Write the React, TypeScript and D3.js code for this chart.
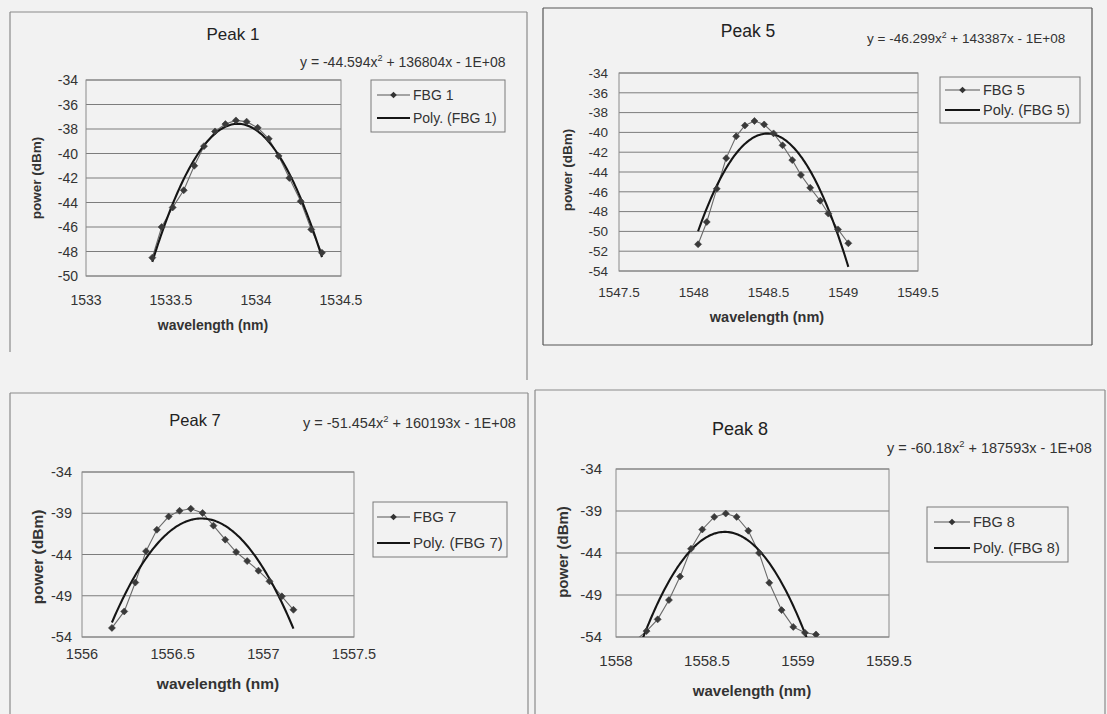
import React from "react";
import * as d3 from "d3";

// ---------- DATA ----------
const peak1Wavelength = [1533.39, 1533.445, 1533.51, 1533.575, 1533.637, 1533.694, 1533.759, 1533.82, 1533.882, 1533.945, 1534.01, 1534.075, 1534.133, 1534.196, 1534.263, 1534.325, 1534.388];
const peak1Power = [-48.5, -46.0, -44.4, -43.0, -41.0, -39.4, -38.2, -37.6, -37.3, -37.4, -37.9, -38.8, -40.2, -42.0, -43.9, -46.2, -48.1];

const peak5Wavelength = [1548.029, 1548.087, 1548.154, 1548.217, 1548.284, 1548.342, 1548.406, 1548.471, 1548.534, 1548.594, 1548.659, 1548.717, 1548.779, 1548.846, 1548.9, 1548.965, 1549.034];
const peak5Power = [-51.3, -49.05, -45.7, -42.6, -40.4, -39.3, -38.85, -39.2, -40.1, -41.3, -42.8, -44.3, -45.6, -46.9, -48.2, -49.8, -51.2];

const peak7Wavelength = [1556.165, 1556.233, 1556.294, 1556.353, 1556.413, 1556.478, 1556.538, 1556.6, 1556.665, 1556.725, 1556.79, 1556.85, 1556.911, 1556.973, 1557.034, 1557.102, 1557.166];
const peak7Power = [-52.9, -50.9, -47.4, -43.6, -41.0, -39.4, -38.7, -38.45, -38.97, -40.5, -42.2, -43.7, -44.8, -45.96, -47.25, -49.07, -50.7];

const peak8Wavelength = [1558.107, 1558.168, 1558.229, 1558.291, 1558.352, 1558.412, 1558.474, 1558.54, 1558.603, 1558.663, 1558.727, 1558.786, 1558.842, 1558.91, 1558.974, 1559.038, 1559.099];
const peak8Power = [-54.4, -53.3, -51.9, -49.6, -46.8, -43.5, -41.2, -39.7, -39.3, -39.7, -41.35, -44.0, -47.55, -50.8, -52.8, -53.5, -53.7];

const peak1XTicks = [1533, 1533.5, 1534, 1534.5];
const peak1YTicks = [-34, -36, -38, -40, -42, -44, -46, -48, -50];
const peak5XTicks = [1547.5, 1548, 1548.5, 1549, 1549.5];
const peak5YTicks = [-34, -36, -38, -40, -42, -44, -46, -48, -50, -52, -54];
const peak7XTicks = [1556, 1556.5, 1557, 1557.5];
const peak8XTicks = [1558, 1558.5, 1559, 1559.5];
const fiveStepYTicks = [-34, -39, -44, -49, -54];

const titles = ["Peak 1", "Peak 5", "Peak 7", "Peak 8"];
const seriesNames = ["FBG 1", "FBG 5", "FBG 7", "FBG 8"];
const trendNames = ["Poly. (FBG 1)", "Poly. (FBG 5)", "Poly. (FBG 7)", "Poly. (FBG 8)"];
const equationA = ["-44.594", "-46.299", "-51.454", "-60.18"];
const equationB = ["136804", "143387", "160193", "187593"];

// ---------- helpers ----------
function quadFit(xs: number[], ys: number[]) {
  const mx = d3.mean(xs) as number;
  const u = xs.map((x) => x - mx);
  let s0 = xs.length, s1 = 0, s2 = 0, s3 = 0, s4 = 0, t0 = 0, t1 = 0, t2 = 0;
  u.forEach((v, i) => {
    s1 += v; s2 += v * v; s3 += v * v * v; s4 += v * v * v * v;
    t0 += ys[i]; t1 += v * ys[i]; t2 += v * v * ys[i];
  });
  const M = [[s4, s3, s2], [s3, s2, s1], [s2, s1, s0]];
  const T = [t2, t1, t0];
  const det = (m: number[][]) =>
    m[0][0] * (m[1][1] * m[2][2] - m[1][2] * m[2][1]) -
    m[0][1] * (m[1][0] * m[2][2] - m[1][2] * m[2][0]) +
    m[0][2] * (m[1][0] * m[2][1] - m[1][1] * m[2][0]);
  const D = det(M);
  const col = (k: number) => M.map((row, i) => row.map((v, j) => (j === k ? T[i] : v)));
  const a = det(col(0)) / D, b = det(col(1)) / D, c = det(col(2)) / D;
  return (x: number) => a * (x - mx) * (x - mx) + b * (x - mx) + c;
}

const FONT = "'Liberation Sans', Arial, Helvetica, sans-serif";

type Cfg = {
  id: number;
  xs: number[]; ys: number[];
  xTicks: number[]; yTicks: number[];
  border: { x: number; y: number; w: number; h: number; hr: number; bottom: boolean; color: string };
  plot: { l: number; r: number; t: number; b: number };
  title: { x: number; y: number; size: number };
  eq: { x: number; y: number; size: number };
  yLabelRight: number; tickSize: number;
  yTitle: { x: number; y: number; size: number };
  xLabelY: number;
  xTitle: { x: number; y: number; size: number };
  legend: { x: number; y: number; w: number; h: number; r1: number; r2: number; l0: number; l1: number; size: number };
};

const diamond = (r: number) => `M0,${-r}L${r},0L0,${r}L${-r},0Z`;

function Panel({ cfg }: { cfg: Cfg }) {
  const { plot } = cfg;
  const x = d3.scaleLinear().domain([cfg.xTicks[0], cfg.xTicks[cfg.xTicks.length - 1]]).range([plot.l, plot.r]);
  const yMin = d3.min(cfg.yTicks) as number, yMax = d3.max(cfg.yTicks) as number;
  const y = d3.scaleLinear().domain([yMin, yMax]).range([plot.b, plot.t]);
  const fit = quadFit(cfg.xs, cfg.ys);
  const [x0, x1] = d3.extent(cfg.xs) as [number, number];
  const trendPts = d3.range(0, 121).map((i) => x0 + ((x1 - x0) * i) / 120);
  const line = d3.line<[number, number]>().x((d) => x(d[0])).y((d) => y(d[1]));
  const dataPts: [number, number][] = cfg.xs.map((v, i) => [v, cfg.ys[i]]);
  const trend: [number, number][] = trendPts.map((v) => [v, fit(v)]);
  const clipId = `clip${cfg.id}`;
  const B = cfg.border;
  const L = cfg.legend;
  const idx = cfg.id;
  return (
    <g fontFamily={FONT} fill="#222">
      <line x1={B.x} y1={B.y} x2={B.x + B.w} y2={B.y} stroke={B.color} strokeWidth={1.2} />
      <line x1={B.x} y1={B.y} x2={B.x} y2={B.y + B.h} stroke={B.color} strokeWidth={1.2} />
      <line x1={B.x + B.w} y1={B.y} x2={B.x + B.w} y2={B.y + B.hr} stroke={B.color} strokeWidth={1.2} />
      {B.bottom && <line x1={B.x} y1={B.y + B.h} x2={B.x + B.w} y2={B.y + B.h} stroke={B.color} strokeWidth={1.2} />}

      <defs>
        <clipPath id={clipId}>
          <rect x={plot.l} y={plot.t} width={plot.r - plot.l} height={plot.b - plot.t} />
        </clipPath>
      </defs>

      {cfg.yTicks.map((t) => (
        <line key={t} x1={plot.l} x2={plot.r} y1={y(t)} y2={y(t)} stroke="#7d7d7d" strokeWidth={1} />
      ))}
      <rect x={plot.l} y={plot.t} width={plot.r - plot.l} height={plot.b - plot.t} fill="none" stroke="#8a8a8a" strokeWidth={1} />

      {cfg.yTicks.map((t) => (
        <text key={t} x={cfg.yLabelRight} y={y(t)} dy="0.36em" textAnchor="end" fontSize={cfg.tickSize} fill="#333">
          {t}
        </text>
      ))}
      {cfg.xTicks.map((t) => (
        <text key={t} x={x(t)} y={cfg.xLabelY} textAnchor="middle" fontSize={cfg.tickSize} fill="#333">
          {t}
        </text>
      ))}

      <g clipPath={`url(#${clipId})`}>
        <path d={line(dataPts) || ""} fill="none" stroke="#6a6a6a" strokeWidth={1.1} />
        <path d={line(trend) || ""} fill="none" stroke="#151515" strokeWidth={2.1} />
        {dataPts
          .filter((d) => d[1] >= yMin - 0.3)
          .map((d, i) => (
            <path key={i} d={diamond(3.5)} transform={`translate(${x(d[0])},${y(d[1])})`} fill="#3a3a3a" stroke="#3a3a3a" strokeWidth={0.6} />
          ))}
      </g>

      <text x={cfg.title.x} y={cfg.title.y} textAnchor="middle" fontSize={cfg.title.size} fill="#222">
        {titles[idx]}
      </text>
      <text x={cfg.eq.x} y={cfg.eq.y} fontSize={cfg.eq.size} fill="#333">
        {`y = ${equationA[idx]}x`}
        <tspan dy={-cfg.eq.size * 0.4} fontSize={cfg.eq.size * 0.65}>2</tspan>
        <tspan dy={cfg.eq.size * 0.4}>{` + ${equationB[idx]}x - 1E+08`}</tspan>
      </text>
      <text
        transform={`translate(${cfg.yTitle.x},${cfg.yTitle.y}) rotate(-90)`}
        textAnchor="middle"
        dy="0.35em"
        fontSize={cfg.yTitle.size}
        fontWeight="bold"
        fill="#333"
      >
        power (dBm)
      </text>
      <text x={cfg.xTitle.x} y={cfg.xTitle.y} textAnchor="middle" fontSize={cfg.xTitle.size} fontWeight="bold" fill="#333">
        wavelength (nm)
      </text>

      <rect x={L.x} y={L.y} width={L.w} height={L.h} fill="none" stroke="#7a7a7a" strokeWidth={1} />
      <line x1={L.l0} x2={L.l1} y1={L.r1} y2={L.r1} stroke="#555" strokeWidth={1.1} />
      <path d={diamond(3.3)} transform={`translate(${(L.l0 + L.l1) / 2},${L.r1})`} fill="#333" />
      <text x={L.l1 + 3} y={L.r1} dy="0.36em" fontSize={L.size} fill="#333">
        {seriesNames[idx]}
      </text>
      <line x1={L.l0} x2={L.l1} y1={L.r2} y2={L.r2} stroke="#151515" strokeWidth={2} />
      <text x={L.l1 + 3} y={L.r2} dy="0.36em" fontSize={L.size} fill="#333">
        {trendNames[idx]}
      </text>
    </g>
  );
}

const panels: Cfg[] = [
  {
    id: 0, xs: peak1Wavelength, ys: peak1Power, xTicks: peak1XTicks, yTicks: peak1YTicks,
    border: { x: 10, y: 12, w: 517, h: 340, hr: 368, bottom: false, color: "#8a8a8a" },
    plot: { l: 86, r: 341, t: 80, b: 276 },
    title: { x: 233, y: 40, size: 17 },
    eq: { x: 300, y: 67, size: 14 },
    yLabelRight: 78, tickSize: 14,
    yTitle: { x: 36, y: 178, size: 13.5 },
    xLabelY: 305,
    xTitle: { x: 213, y: 330, size: 14 },
    legend: { x: 371, y: 80, w: 134, h: 52, r1: 95, r2: 118, l0: 377, l1: 410, size: 14 },
  },
  {
    id: 1, xs: peak5Wavelength, ys: peak5Power, xTicks: peak5XTicks, yTicks: peak5YTicks,
    border: { x: 543, y: 8, w: 549, h: 337, hr: 337, bottom: true, color: "#555" },
    plot: { l: 619, r: 918, t: 73, b: 271 },
    title: { x: 748, y: 37, size: 17.5 },
    eq: { x: 867, y: 43, size: 13.5 },
    yLabelRight: 608, tickSize: 13.5,
    yTitle: { x: 567, y: 170, size: 13.5 },
    xLabelY: 297,
    xTitle: { x: 767, y: 322, size: 14.5 },
    legend: { x: 940, y: 77, w: 140, h: 46, r1: 90, r2: 110, l0: 945, l1: 980, size: 14.5 },
  },
  {
    id: 2, xs: peak7Wavelength, ys: peak7Power, xTicks: peak7XTicks, yTicks: fiveStepYTicks,
    border: { x: 10, y: 393, w: 518, h: 330, hr: 330, bottom: false, color: "#8a8a8a" },
    plot: { l: 82, r: 354, t: 472, b: 637 },
    title: { x: 195, y: 426, size: 16.5 },
    eq: { x: 303, y: 428, size: 14.5 },
    yLabelRight: 72, tickSize: 14.5,
    yTitle: { x: 38, y: 557, size: 15.5 },
    xLabelY: 659,
    xTitle: { x: 218, y: 689, size: 15.5 },
    legend: { x: 373, y: 502, w: 134, h: 55, r1: 517, r2: 543, l0: 377, l1: 410, size: 15 },
  },
  {
    id: 3, xs: peak8Wavelength, ys: peak8Power, xTicks: peak8XTicks, yTicks: fiveStepYTicks,
    border: { x: 535, y: 390, w: 570, h: 330, hr: 330, bottom: false, color: "#8a8a8a" },
    plot: { l: 616, r: 889, t: 469, b: 637 },
    title: { x: 740, y: 435, size: 18 },
    eq: { x: 887, y: 453, size: 14.5 },
    yLabelRight: 602, tickSize: 15,
    yTitle: { x: 563, y: 552, size: 15 },
    xLabelY: 666,
    xTitle: { x: 752, y: 696, size: 15 },
    legend: { x: 927, y: 507, w: 141, h: 55, r1: 522, r2: 548, l0: 934, l1: 970, size: 14.5 },
  },
];

export default function App() {
  return (
    <svg
      width={1107}
      height={714}
      viewBox="0 0 1107 714"
      style={{ position: "fixed", left: 0, top: 0, background: "#f2f2f2" }}
    >
      <rect x={0} y={0} width={1107} height={714} fill="#f2f2f2" />
      {panels.map((p) => (
        <Panel key={p.id} cfg={p} />
      ))}
    </svg>
  );
}
